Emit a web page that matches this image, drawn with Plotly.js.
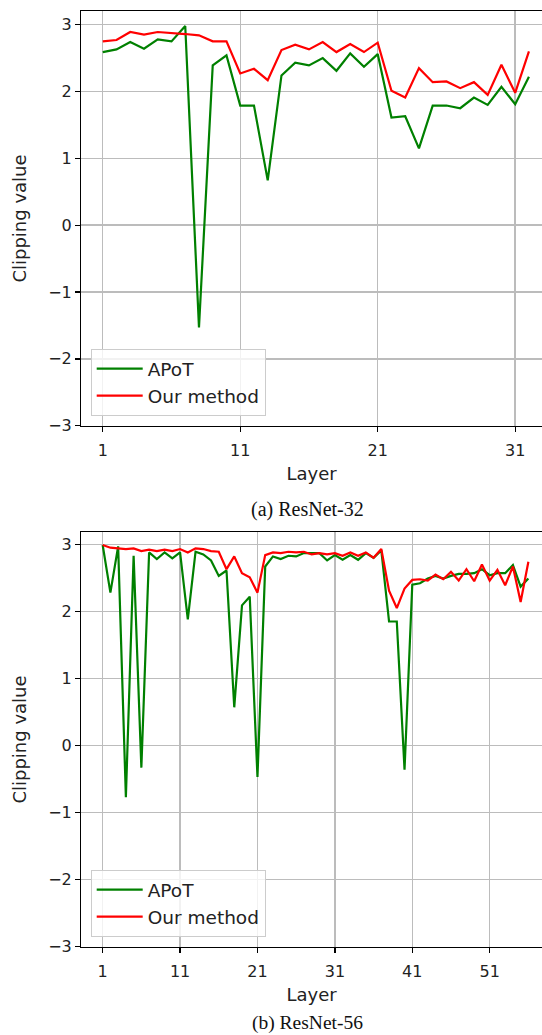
<!DOCTYPE html>
<html>
<head>
<meta charset="utf-8">
<script src="https://cdn.plot.ly/plotly-3.0.1.min.js"></script>
<style>
html, body { margin: 0; padding: 0; background: #ffffff; overflow: hidden; }
#chart { width: 542px; height: 1035px; }
</style>
</head>
<body>
<div id="chart"></div>
<script>
// ResNet-32 (layers 1..32)
var layers32 = [];
for (var i = 1; i <= 32; i++) layers32.push(i);
var apot32 = [2.59, 2.63, 2.74, 2.64, 2.78, 2.75, 2.98, -1.53, 2.39, 2.54,
              1.79, 1.79, 0.67, 2.24, 2.43, 2.39, 2.50, 2.31, 2.57, 2.37,
              2.56, 1.61, 1.63, 1.15, 1.79, 1.79, 1.75, 1.91, 1.80, 2.07,
              1.81, 2.22];
var ours32 = [2.75, 2.77, 2.89, 2.85, 2.89, 2.88, 2.86, 2.84, 2.75, 2.75,
              2.27, 2.34, 2.17, 2.62, 2.70, 2.63, 2.74, 2.59, 2.71, 2.59,
              2.73, 2.01, 1.91, 2.35, 2.14, 2.15, 2.05, 2.14, 1.95, 2.40,
              1.98, 2.60];

// ResNet-56 (layers 1..56)
var layers56 = [];
for (var j = 1; j <= 56; j++) layers56.push(j);
var apot56 = [2.99, 2.28, 2.97, -0.77, 2.83, -0.33, 2.88, 2.78, 2.88, 2.79,
              2.88, 1.88, 2.89, 2.85, 2.76, 2.53, 2.61, 0.57, 2.09, 2.22,
              -0.47, 2.67, 2.82, 2.78, 2.83, 2.82, 2.87, 2.87, 2.87, 2.76,
              2.84, 2.77, 2.84, 2.77, 2.87, 2.80, 2.91, 1.85, 1.85, -0.36,
              2.40, 2.42, 2.49, 2.53, 2.49, 2.53, 2.56, 2.56, 2.57, 2.63,
              2.54, 2.57, 2.57, 2.69, 2.37, 2.49];
var ours56 = [2.99, 2.95, 2.94, 2.93, 2.94, 2.90, 2.92, 2.90, 2.92, 2.90,
              2.93, 2.88, 2.94, 2.93, 2.90, 2.89, 2.63, 2.82, 2.57, 2.51,
              2.28, 2.84, 2.88, 2.87, 2.89, 2.88, 2.89, 2.85, 2.87, 2.85,
              2.87, 2.83, 2.88, 2.83, 2.88, 2.80, 2.93, 2.31, 2.05, 2.34,
              2.47, 2.48, 2.46, 2.55, 2.48, 2.59, 2.46, 2.63, 2.45, 2.70,
              2.46, 2.62, 2.39, 2.67, 2.14, 2.74];

var seriesNames = ["APoT", "Our method"];
var captions = ["(a) ResNet-32", "(b) ResNet-56"];
var xLabel = "Layer";
var yLabel = "Clipping value";
var yTicks = [-3, -2, -1, 0, 1, 2, 3];
var xTicks32 = [1, 11, 21, 31];
var xTicks56 = [1, 11, 21, 31, 41, 51];

var GREEN = "#008000", RED = "#ff0000";
var W = 542, H = 1035;
var FONT = "DejaVu Sans, Verdana, sans-serif";
var TXT = "#222222";
var GRID = "#bcbcbc";

function py(p) { return 1 - p / H; }

var traces = [
  {x: layers32, y: apot32, name: seriesNames[0], type: "scatter", mode: "lines",
   line: {color: GREEN, width: 2.2}, xaxis: "x", yaxis: "y", legend: "legend"},
  {x: layers32, y: ours32, name: seriesNames[1], type: "scatter", mode: "lines",
   line: {color: RED, width: 2.2}, xaxis: "x", yaxis: "y", legend: "legend"},
  {x: layers56, y: apot56, name: seriesNames[0], type: "scatter", mode: "lines",
   line: {color: GREEN, width: 2.2}, xaxis: "x2", yaxis: "y2", legend: "legend2"},
  {x: layers56, y: ours56, name: seriesNames[1], type: "scatter", mode: "lines",
   line: {color: RED, width: 2.2}, xaxis: "x2", yaxis: "y2", legend: "legend2"}
];

function xAxis(range, ticks, anchor, dom) {
  return {
    domain: dom, anchor: anchor, range: range,
    tickmode: "array", tickvals: ticks, ticktext: ticks.map(String),
    showline: true, linecolor: "#000", linewidth: 1.3, mirror: true,
    ticks: "outside", ticklen: 5, tickwidth: 1.3, tickcolor: "#000",
    ticklabelstandoff: 5,
    showgrid: true, gridcolor: GRID, gridwidth: 1.4, zeroline: false,
    tickfont: {family: FONT, size: 16, color: TXT},
    title: {text: xLabel, font: {family: FONT, size: 18, color: TXT}, standoff: 8},
    automargin: false
  };
}
function yAxis(range, anchor, dom) {
  return {
    domain: dom, anchor: anchor, range: range,
    tickmode: "array", tickvals: yTicks,
    showline: true, linecolor: "#000", linewidth: 1.3, mirror: false,
    ticks: "outside", ticklen: 5, tickwidth: 1.3, tickcolor: "#000",
    showgrid: true, gridcolor: GRID, gridwidth: 1.4, zeroline: false,
    tickfont: {family: FONT, size: 16, color: TXT},
    title: {text: yLabel, font: {family: FONT, size: 18, color: TXT}, standoff: 17},
    automargin: false
  };
}

function legendAt(bottomPx) {
  return {
    x: 90.7 / W, y: py(bottomPx), xanchor: "left", yanchor: "bottom",
    bgcolor: "rgba(255,255,255,0.8)", bordercolor: "#cccccc", borderwidth: 1,
    font: {family: FONT, size: 18.5, color: TXT}, tracegroupgap: 0,
    itemwidth: 46
  };
}

var xDom = [81.3 / W, 1];
var layout = {
  width: W, height: H,
  margin: {l: 0, r: 0, t: 0, b: 0},
  paper_bgcolor: "#ffffff", plot_bgcolor: "#ffffff",
  showlegend: true,
  xaxis: xAxis([-0.56, 32.95], xTicks32, "y", xDom),
  yaxis: yAxis([-3, 3.2], "x", [py(425.7), py(11.3)]),
  xaxis2: xAxis([-1.76, 57.76], xTicks56, "y2", xDom),
  yaxis2: yAxis([-3, 3.18], "x2", [py(946.7), py(532.3)]),
  legend: legendAt(416),
  legend2: legendAt(937),
  annotations: [
    {text: captions[0], xref: "paper", yref: "paper", x: 307 / W, y: py(509),
     xanchor: "center", yanchor: "middle", showarrow: false,
     font: {family: "Liberation Serif, Times New Roman, serif", size: 20, color: "#111"}},
    {text: captions[1], xref: "paper", yref: "paper", x: 307.5 / W, y: py(1035),
     xanchor: "center", yanchor: "bottom", showarrow: false, borderpad: 0,
     font: {family: "Liberation Serif, Times New Roman, serif", size: 19.5, color: "#111"}}
  ]
};

Plotly.newPlot("chart", traces, layout, {displayModeBar: false, staticPlot: true});
</script>
</body>
</html>
